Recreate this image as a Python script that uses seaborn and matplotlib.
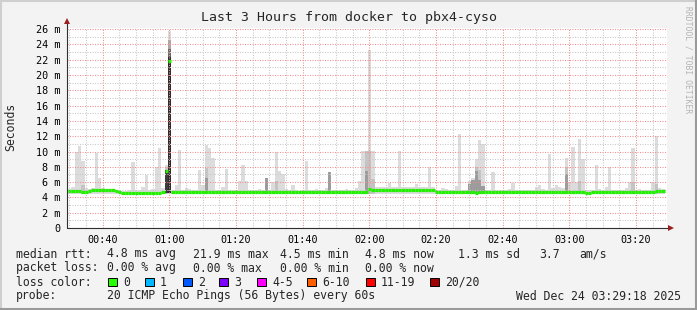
import numpy as np
import pandas as pd
import matplotlib
matplotlib.use("Agg")
import matplotlib.pyplot as plt
import seaborn as sns
from matplotlib.lines import Line2D
from matplotlib.patches import Rectangle

# ---------------- data ----------------
START_MIN = 29.6  # left edge of first 1-minute sample (minutes after 00:00)

median_ms = [
    4.8, 4.8, 4.8, 4.8, 4.75, 4.75, 4.85, 4.95, 4.95, 4.95,
    4.95, 4.95, 4.95, 4.95, 4.9, 4.7, 4.6, 4.6, 4.6, 4.6,
    4.6, 4.6, 4.6, 4.6, 4.6, 4.6, 4.6, 4.6, 4.65, 7.4,
    21.8, 4.7, 4.75, 4.7, 4.7, 4.7, 4.75, 4.7, 4.7, 4.7,
    4.7, 4.7, 4.7, 4.7, 4.7, 4.7, 4.7, 4.7, 4.7, 4.7,
    4.75, 4.7, 4.7, 4.7, 4.7, 4.7, 4.7, 4.75, 4.7, 4.7,
    4.7, 4.7, 4.7, 4.7, 4.7, 4.7, 4.7, 4.7, 4.65, 4.65,
    4.65, 4.7, 4.7, 4.7, 4.7, 4.7, 4.7, 4.7, 4.7, 4.7,
    4.7, 4.7, 4.7, 4.7, 4.7, 4.7, 4.7, 4.7, 4.7, 4.7,
    5.05, 5.0, 5.0, 5.0, 5.0, 5.0, 5.0, 5.0, 4.95, 5.0,
    5.0, 5.0, 4.95, 4.95, 5.0, 5.0, 5.0, 5.0, 5.0, 5.0,
    4.75, 4.7, 4.7, 4.7, 4.7, 4.7, 4.7, 4.7, 4.7, 4.7,
    4.65, 4.65, 4.6, 4.65, 4.65, 4.7, 4.7, 4.7, 4.7, 4.7,
    4.75, 4.75, 4.75, 4.75, 4.75, 4.75, 4.75, 4.75, 4.75, 4.75,
    4.75, 4.75, 4.75, 4.75, 4.75, 4.75, 4.7, 4.7, 4.7, 4.75,
    4.75, 4.7, 4.7, 4.7, 4.65, 4.6, 4.6, 4.65, 4.7, 4.7,
    4.75, 4.75, 4.7, 4.7, 4.7, 4.7, 4.7, 4.7, 4.7, 4.75,
    4.75, 4.75, 4.75, 4.75, 4.75, 4.75, 4.8, 4.8, 4.8,
]

smoke_top_ms = [
    5.1, 5.4, 9.9, 10.7, 8.7, 5.2, 5.1, 5.2, 9.8, 6.5,
    5.2, 5.1, 5.1, 5.1, 5.0, 4.9, 4.9, 4.9, 5.0, 8.6,
    4.9, 5.0, 5.3, 6.9, 5.0, 5.1, 8.0, 10.5, 5.2, 8.3,
    25.8, 5.0, 5.6, 10.2, 5.0, 5.2, 5.1, 5.0, 5.0, 7.6,
    5.6, 10.8, 10.4, 9.2, 5.0, 5.0, 5.3, 7.7, 5.0, 5.0,
    5.0, 6.2, 8.3, 6.2, 5.0, 5.0, 5.0, 5.1, 5.0, 6.6,
    5.0, 6.0, 9.9, 7.5, 7.0, 5.1, 5.0, 5.6, 5.0, 4.9,
    5.0, 8.7, 5.0, 5.0, 5.1, 5.0, 5.0, 5.2, 7.3, 5.0,
    5.0, 5.0, 5.0, 5.1, 5.0, 5.0, 5.2, 6.2, 10.1, 10.1,
    23.3, 10.1, 5.3, 5.3, 5.4, 5.3, 5.9, 5.4, 5.3, 10.1,
    5.3, 5.3, 5.3, 5.3, 5.8, 5.3, 5.3, 5.3, 8.0, 5.3,
    5.0, 5.0, 5.2, 5.1, 5.0, 5.0, 5.5, 12.3, 5.0, 5.0,
    6.2, 6.6, 9.0, 11.5, 11.0, 5.0, 5.0, 7.3, 5.0, 5.0,
    5.0, 5.0, 5.1, 5.9, 5.0, 5.0, 5.0, 5.0, 5.0, 5.0,
    5.3, 5.6, 5.1, 5.0, 9.7, 5.2, 5.6, 5.3, 5.2, 9.2,
    6.0, 10.6, 6.0, 11.6, 9.0, 5.0, 5.0, 5.0, 8.2, 5.1,
    5.0, 5.3, 8.0, 5.0, 5.0, 5.0, 5.0, 5.2, 6.0, 10.4,
    5.0, 5.1, 5.0, 5.0, 5.0, 6.0, 12.0, 5.2, 5.1,
]

mid_idx = [4, 29, 41, 62, 89, 90, 91, 122, 123, 149, 153, 169, 176]
mid_top_ms = [5.6, 8.0, 7.8, 6.2, 10.1, 10.1, 6.4, 8.0, 7.6, 8.0, 6.2, 6.0, 5.8]

dark_idx = [41, 59, 78, 89, 120, 121, 122, 123, 124, 149]
dark_top_ms = [6.6, 6.6, 7.3, 7.4, 5.8, 6.3, 7.4, 6.3, 5.5, 7.0]

core_idx = [30, 30, 30, 29]
core_top_ms = [24.6, 23.4, 22.3, 7.6]

x_tick_minutes = [40, 60, 80, 100, 120, 140, 160, 180, 200]
x_tick_labels = ["00:40", "01:00", "01:20", "01:40", "02:00",
                 "02:20", "02:40", "03:00", "03:20"]
y_ticks = [0, 2, 4, 6, 8, 10, 12, 14, 16, 18, 20, 22, 24, 26]
y_tick_labels = ["0", "2 m", "4 m", "6 m", "8 m", "10 m", "12 m", "14 m",
                 "16 m", "18 m", "20 m", "22 m", "24 m", "26 m"]

rtt_stats = ["4.8 ms avg", "21.9 ms max", "4.5 ms min", "4.8 ms now",
             "1.3 ms sd", "3.7", "am/s"]
loss_stats = ["0.00 % avg", "0.00 % max", "0.00 % min", "0.00 % now"]
loss_labels = ["0", "1", "2", "3", "4-5", "6-10", "11-19", "20/20"]
loss_colors = ["#26ff00", "#00b8ff", "#0059ff", "#7e00ff",
               "#ff00ff", "#ff5e00", "#ff0000", "#a10000"]
title = "Last 3 Hours from docker to pbx4-cyso"
probe_text = "20 ICMP Echo Pings (56 Bytes) every 60s"
stamp_text = "Wed Dec 24 03:29:18 2025"

# ---------------- style ----------------
W, H = 697, 310
sns.set_style("white")
plt.rcParams["font.family"] = ["DejaVu Sans Mono"]

fig = plt.figure(figsize=(W / 100, H / 100), dpi=100, facecolor="#f3f3f3")
ax = fig.add_axes([67 / W, 82 / H, 600 / W, 200 / H])
ax.set_facecolor("white")

XMIN, XMAX = 29.3, 209.3
YMAX = 26.15
SMOKE_FLOOR = 4.45
CORE_FLOOR = 4.55
core_shades = ["#a8a8a8", "#6a6a6a", "#2c2c2c", "#3c3c3c"]

n = len(median_ms)
lefts = np.array([START_MIN + i for i in range(n)])
top = np.array(smoke_top_ms)

ax.bar(lefts, top - SMOKE_FLOOR, bottom=SMOKE_FLOOR, width=1.0, align="edge",
       color="#dcdcdc", linewidth=0, zorder=1)
ax.bar(lefts[mid_idx], np.array(mid_top_ms) - SMOKE_FLOOR, bottom=SMOKE_FLOOR,
       width=1.0, align="edge", color="#c4c4c4", linewidth=0, zorder=1.1)
ax.bar(lefts[dark_idx], np.array(dark_top_ms) - SMOKE_FLOOR, bottom=SMOKE_FLOOR,
       width=1.0, align="edge", color="#9c9c9c", linewidth=0, zorder=1.2)
for k, (ci, ct) in enumerate(zip(core_idx, core_top_ms)):
    ax.bar([lefts[ci]], [ct - CORE_FLOOR], bottom=CORE_FLOOR, width=1.0,
           align="edge", color=core_shades[k], linewidth=0, zorder=1.3 + 0.01 * k)

# median as per-minute flat segments
seg_rows = []
for i, m in enumerate(median_ms):
    seg_rows.append({"t": lefts[i], "ms": m, "seg": i})
    seg_rows.append({"t": lefts[i] + 1.0, "ms": m, "seg": i})
seg_df = pd.DataFrame(seg_rows)
sns.lineplot(data=seg_df, x="t", y="ms", units="seg", estimator=None,
             color="#22f000", linewidth=2.3, ax=ax, legend=False, zorder=4,
             solid_capstyle="butt")

ax.set_xlim(XMIN, XMAX)
ax.set_ylim(0, YMAX)
ax.set_xlabel("")
ax.set_ylabel("")

ax.set_xticks(x_tick_minutes)
ax.set_xticklabels(x_tick_labels)
ax.set_xticks(np.arange(30, 210, 5), minor=True)
ax.set_yticks(y_ticks)
ax.set_yticklabels(y_tick_labels)
ax.set_yticks(np.arange(1, 26, 2), minor=True)

ax.set_axisbelow(False)
ax.grid(which="major", color="#f09090", linestyle=(0, (1, 1.4)), linewidth=0.75)
ax.grid(which="minor", color="#c8c8c8", linestyle=(0, (1, 1.4)), linewidth=0.75)

for s in ["top", "right", "left", "bottom"]:
    ax.spines[s].set_visible(False)

ax.tick_params(axis="both", which="major", length=2.5, width=0.7,
               color="#707070", labelsize=7.3, pad=2.5, labelcolor="#000000")
ax.tick_params(axis="both", which="minor", length=1.5, width=0.7, color="#909090")

# axis lines with arrows
ax.plot([XMIN, XMIN], [0, YMAX + 0.9], color="#303030", lw=0.8,
        clip_on=False, zorder=5)
ax.plot([XMIN, XMAX + 1.0], [0, 0], color="#303030", lw=0.8,
        clip_on=False, zorder=5)
ax.plot([XMIN], [YMAX + 0.9], marker="^", color="#9a2020", markersize=4.5,
        clip_on=False, zorder=6, markeredgewidth=0)
ax.plot([XMAX + 1.2], [0], marker=">", color="#9a2020", markersize=4.5,
        clip_on=False, zorder=6, markeredgewidth=0)


def ftext(x, y, s, **kw):
    kw.setdefault("va", "center")
    kw.setdefault("fontsize", 8.3)
    fig.text(x / W, 1 - y / H, s, **kw)


ftext(349, 18, title, ha="center", fontsize=9.5)
ftext(11, 127, "Seconds", ha="center", rotation=90, fontsize=8.3)
ftext(688, 60, "RRDTOOL / TOBI OETIKER", ha="center", rotation=-90,
      fontsize=5.8, color="#b4b4b4")

rtt_x = [107, 193, 280, 365, 458, 539, 579]
ftext(16, 254, "median rtt:")
for xx, s in zip(rtt_x, rtt_stats):
    ftext(xx, 254, s)
ftext(16, 268, "packet loss:")
for xx, s in zip(rtt_x[:4], loss_stats):
    ftext(xx, 268, s)
ftext(16, 282, "loss color:")
box_x = [108, 145, 183, 219, 257, 307, 366, 430]
for xx, lab, col in zip(box_x, loss_labels, loss_colors):
    fig.add_artist(Rectangle((xx / W, 1 - 286 / H), 9 / W, 8 / H,
                             transform=fig.transFigure, facecolor=col,
                             edgecolor="#000000", linewidth=0.7))
    ftext(xx + 15, 282, lab)
ftext(16, 296, "probe:")
ftext(107, 296, probe_text)
ftext(681, 296, stamp_text, ha="right")

# frame
fig.add_artist(Line2D([0, 1], [1 - 0.5 / H, 1 - 0.5 / H], transform=fig.transFigure,
                      color="#cfcfcf", lw=1.5))
fig.add_artist(Line2D([0.5 / W, 0.5 / W], [0, 1], transform=fig.transFigure,
                      color="#cfcfcf", lw=1.5))
fig.add_artist(Line2D([0, 1], [0.8 / H, 0.8 / H], transform=fig.transFigure,
                      color="#9a9a9a", lw=1.5))
fig.add_artist(Line2D([1 - 0.8 / W, 1 - 0.8 / W], [0, 1], transform=fig.transFigure,
                      color="#9a9a9a", lw=1.5))

fig.savefig("out.png", dpi=100, facecolor=fig.get_facecolor())
